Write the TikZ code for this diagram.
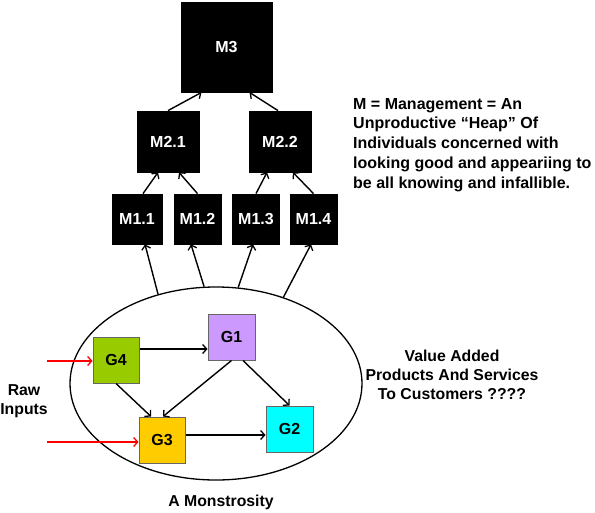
\documentclass[tikz,border=0pt]{standalone}
\usepackage{fontspec}
\setmainfont{Liberation Sans}
\usetikzlibrary{shapes.geometric,arrows.meta}
\definecolor{gfour}{HTML}{99CC00}
\definecolor{gone}{HTML}{CC99FF}
\definecolor{gtwo}{HTML}{00FFFF}
\definecolor{gthree}{HTML}{FFCC00}
\begin{document}
\begin{tikzpicture}[x=1pt,y=-1pt,
  mbox/.style={draw=black,fill=black,text=white,inner sep=0pt,line width=0.8pt,
    font=\fontsize{16}{19}\selectfont\bfseries},
  gbox/.style={draw=black!60,inner sep=0pt,line width=1pt,minimum width=46pt,minimum height=46pt,
    font=\fontsize{16}{19}\selectfont\bfseries},
  conn/.style={-{Straight Barb[length=4pt,width=9pt,line width=1.3pt]},line width=1.4pt,black},
  redconn/.style={-{Straight Barb[length=4pt,width=9pt,line width=1.3pt]},line width=1.4pt,red},
  lbl/.style={inner sep=0pt,align=center,font=\fontsize{15.8}{19}\selectfont\bfseries}]
\useasboundingbox (0,0) rectangle (595,512);
% management boxes
\node[mbox,minimum width=91pt,minimum height=90pt] (M3) at (226.5,47) {M3};
\node[mbox,minimum width=62pt,minimum height=61pt] (M21) at (168,141.5) {M2.1};
\node[mbox,minimum width=62pt,minimum height=61pt] (M22) at (280,141.5) {M2.2};
\node[mbox,minimum width=50pt,minimum height=50pt] (M11) at (137,219) {M1.1};
\node[mbox,minimum width=47pt,minimum height=50pt] (M12) at (197.5,219) {M1.2};
\node[mbox,minimum width=47pt,minimum height=50pt] (M13) at (256,219) {M1.3};
\node[mbox,minimum width=47pt,minimum height=50pt] (M14) at (313.5,219) {M1.4};
% ellipse
\node[ellipse,draw,line width=1.3pt,minimum width=292pt,minimum height=193pt,inner sep=0pt] (mon) at (216,383.5) {};
% G boxes
\node[gbox,fill=gfour] (G4) at (116,360) {G4};
\node[gbox,fill=gone,minimum width=47pt] (G1) at (231.5,337) {G1};
\node[gbox,fill=gtwo,minimum width=47pt] (G2) at (289.5,429) {G2};
\node[gbox,fill=gthree] (G3) at (162,440) {G3};
% management connectors
\draw[conn] (M21.north) -- ([xshift=-25pt]M3.south);
\draw[conn] ([xshift=-2pt]M22.north) -- ([xshift=23pt]M3.south);
\draw[conn] ([xshift=6pt]M11.north) -- ([xshift=-10pt]M21.south);
\draw[conn] (M12.north) -- ([xshift=11pt]M21.south);
\draw[conn] (M13.north) -- ([xshift=-13pt]M22.south);
\draw[conn] (M14.north) -- ([xshift=13pt]M22.south);
\draw[conn] (mon.123) -- ([xshift=8pt]M11.south);
\draw[conn] (mon.97.5) -- ([xshift=-6.5pt]M12.south);
\draw[conn] (mon.77.4) -- ([xshift=-3pt]M13.south);
\draw[conn] (mon.52.9) -- ([xshift=-2.5pt]M14.south);
% G connectors
\coordinate (a) at ([yshift=11pt]G4.east);
\draw[conn] (a) -- (a -| G1.west);
\draw[conn] (G4.south) -- ([xshift=-11pt]G3.north);
\draw[conn] (G1.south) -- ([xshift=1pt]G3.north);
\draw[conn] ([xshift=11.5pt]G1.south) -- (G2.north);
\coordinate (b) at ([yshift=5pt]G3.east);
\draw[conn] (b) -- (b -| G2.west);
% raw inputs
\coordinate (r1) at (47,361);
\coordinate (r2) at (47,442);
\draw[redconn] (r1) -- (r1 -| G4.west);
\draw[redconn] (r2) -- (r2 -| G3.west);
% texts
\node[lbl] (raw) at (24,401) {Raw\\Inputs};
\node[lbl] (val) at (452,375) {Value Added\\Products And Services\\To Customers ????};
\node[lbl] (mono) at (221,502) {A Monstrosity};
\node[lbl,align=left,anchor=north west,font=\fontsize{16}{19.7}\selectfont\bfseries] (mdef) at (353,98)
  {M = Management = An\\Unproductive “Heap” Of\\Individuals concerned with\\looking good and appeariing to\\be all knowing and infallible.};
\end{tikzpicture}
\end{document}
